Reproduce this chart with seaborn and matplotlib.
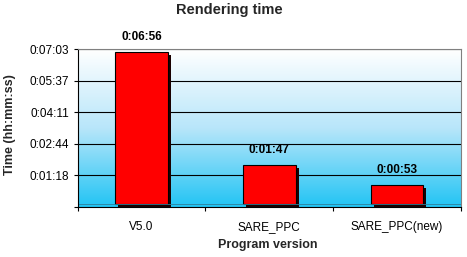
import numpy as np
import pandas as pd
import matplotlib
matplotlib.use("Agg")
import matplotlib.pyplot as plt
import matplotlib.transforms as mtransforms
from matplotlib.colors import LinearSegmentedColormap
import seaborn as sns

# ---- data ----
versions = ["V5.0", "SARE_PPC", "SARE_PPC(new)"]
times_s = [416, 107, 53]          # 0:06:56, 0:01:47, 0:00:53
ytick_values = [-8.4, 78, 164.4, 250.8, 337.2, 423.6]
ytick_labels = ["", "0:01:18", "0:02:44", "0:04:11", "0:05:37", "0:07:03"]
title = "Rendering time"
xlabel = "Program version"
ylabel = "Time (hh:mm:ss)"


def fmt(s):
    s = int(round(s))
    return f"{s // 3600}:{(s % 3600) // 60:02d}:{s % 60:02d}"


df = pd.DataFrame({"version": versions, "time": times_s})

sns.set_theme(style="white")
plt.rcParams["font.family"] = ["Liberation Sans", "DejaVu Sans"]

fig = plt.figure(figsize=(4.67, 2.57), dpi=100)
fig.patch.set_facecolor("white")
ax = fig.add_axes([0.1664, 0.1946, 0.987 - 0.1664, 0.8093 - 0.1946])

# gradient background
cmap = LinearSegmentedColormap.from_list("sky", ["#ffffff", "#b8e6fa", "#22c4f4"])
grad = np.linspace(0, 1, 256).reshape(-1, 1)
ax.imshow(grad, extent=[0, 1, 0, 1], transform=ax.transAxes, cmap=cmap,
          aspect="auto", zorder=0, origin="upper")

# floor band below zero (drawn over bar bottoms)
ax.axhspan(ytick_values[0], 0, color="#4aa6c6", zorder=3, lw=0)
ax.axhline(0, color="#2f7f9a", lw=0.6, zorder=3.1)

# gridlines
for v in ytick_values[1:]:
    ax.axhline(v, color="black", lw=0.8, zorder=0.7)

# shadow bars
sns.barplot(data=df, x="version", y="time", color="black", width=0.41,
            ax=ax, zorder=1, saturation=1)
shadow_patches = list(ax.patches)
offset = mtransforms.ScaledTranslation(3 / 100, -3 / 100, fig.dpi_scale_trans)
for p in shadow_patches:
    p.set_transform(ax.transData + offset)
    p.set_facecolor("#1a0000")
    p.set_edgecolor("none")
    p.set_clip_on(True)
    p.set_clip_path(ax.patch)

# main bars
sns.barplot(data=df, x="version", y="time", color="#ff0000", width=0.41,
            ax=ax, zorder=2, saturation=1, edgecolor="black", linewidth=0.8)

ax.set_xlim(-0.5, 2.5)
ax.set_ylim(ytick_values[0], ytick_values[-1])

# value labels
for i, t in enumerate(times_s):
    ax.annotate(fmt(t), (i, t), xytext=(0, 6), textcoords="offset points",
                ha="center", va="bottom", fontsize=8.5, fontweight="bold",
                color="black", zorder=5, annotation_clip=False)

ax.set_yticks(ytick_values)
ax.set_yticklabels(ytick_labels, fontsize=8.5, color="black")
ax.set_xticks(range(len(versions)))
ax.set_xticklabels(versions, fontsize=8.5, color="black")
ax.set_xticks([-0.5, 0.5, 1.5, 2.5], minor=True)
ax.tick_params(axis="x", which="major", length=0, pad=10)
ax.tick_params(axis="x", which="minor", length=3, width=0.8, color="black",
               direction="out", bottom=True)
ax.tick_params(axis="y", which="major", length=3, width=0.8, color="black",
               direction="out", left=True, pad=3)

ax.set_xlabel("")
ax.set_ylabel("")
for side in ["left", "bottom"]:
    ax.spines[side].set_color("black")
    ax.spines[side].set_linewidth(0.8)
for side in ["top", "right"]:
    ax.spines[side].set_color("#808080")
    ax.spines[side].set_linewidth(0.8)
for s in ax.spines.values():
    s.set_zorder(6)

fig.text(229 / 467, 1 - 10 / 257, title, ha="center", va="center",
         fontsize=10.5, fontweight="bold")
fig.text(268 / 467, 1 - 245 / 257, xlabel, ha="center", va="center",
         fontsize=9, fontweight="bold")
fig.text(10 / 467, 1 - 125 / 257, ylabel, ha="center", va="center",
         rotation=90, fontsize=9, fontweight="bold")

fig.savefig("out.png", dpi=100)
